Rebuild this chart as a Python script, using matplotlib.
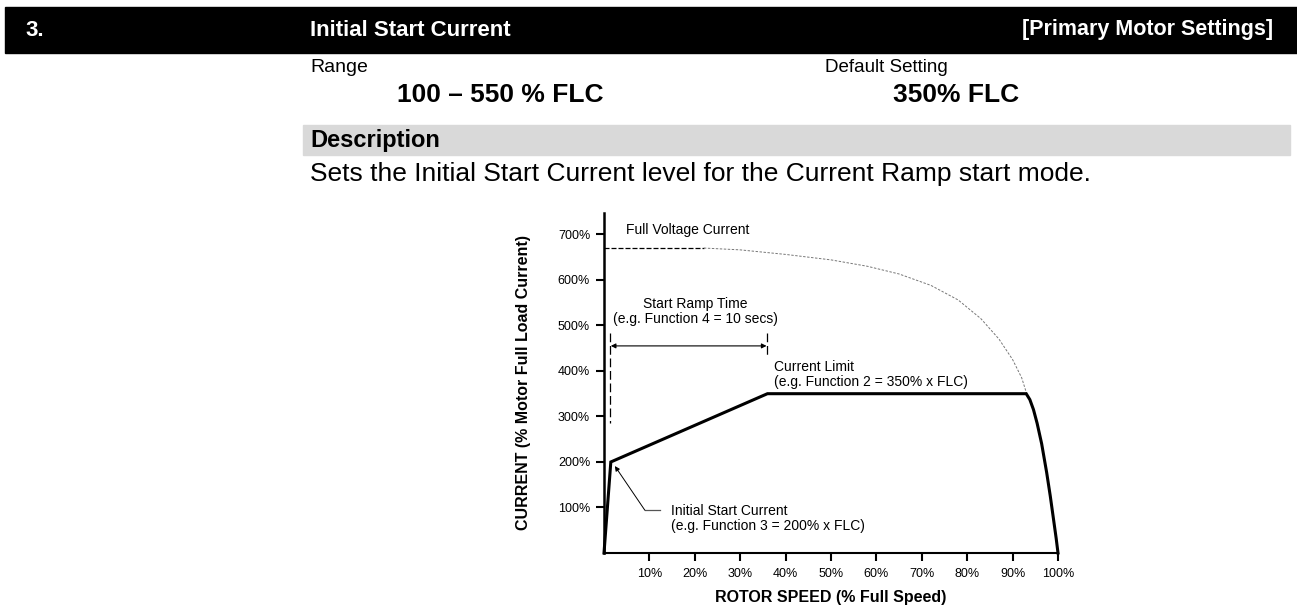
import matplotlib
matplotlib.use("Agg")
from matplotlib import pyplot as plt
from matplotlib.patches import Rectangle

plt.rcParams['font.family'] = ['Liberation Sans', 'DejaVu Sans']

# ---- data ----
speed_ramp = [0, 1.5, 36, 93, 93.8, 94.6, 95.4, 96.4, 97.5, 98.3, 99, 99.6, 100]
current_ramp = [0, 200, 350, 350, 337, 315, 285, 240, 177, 125, 75, 32, 0]

fv_speed_solid = [0, 22]
fv_current_solid = [670, 670]
fv_speed = [22, 30, 40, 50, 58, 65, 72, 78, 83, 87, 90, 92, 93.1]
fv_current = [670, 666, 656, 644, 630, 613, 588, 556, 515, 470, 425, 385, 350]

ramp_start_x = 1.3
ramp_end_x = 36
ramp_start_y = [483, 286]
ramp_end_y = [483, 430]
ramp_arrow_y = 455

x_ticks = [10, 20, 30, 40, 50, 60, 70, 80, 90, 100]
x_labels = ['10%', '20%', '30%', '40%', '50%', '60%', '70%', '80%', '90%', '100%']
y_ticks = [100, 200, 300, 400, 500, 600, 700]
y_labels = ['100%', '200%', '300%', '400%', '500%', '600%', '700%']

W, H = 1297, 608


def fx(px):
    return px / W


def fy(py):
    return 1 - py / H


fig = plt.figure(figsize=(W / 100, H / 100), dpi=100)

# ---- header ----
fig.patches.append(Rectangle((fx(5), fy(53)), fx(1297) - fx(5), (53 - 7) / H,
                             transform=fig.transFigure, color='black', zorder=0))
fig.text(fx(25), fy(30), '3.', color='white', fontsize=16, fontweight='bold', va='center')
fig.text(fx(310), fy(30), 'Initial Start Current', color='white', fontsize=16,
         fontweight='bold', va='center')
fig.text(fx(1273), fy(30), '[Primary Motor Settings]', color='white', fontsize=15.5,
         fontweight='bold', va='center', ha='right')

fig.text(fx(310), fy(67), 'Range', fontsize=14, va='center')
fig.text(fx(825), fy(67), 'Default Setting', fontsize=13.5, va='center')
fig.text(fx(397), fy(95), '100 \u2013 550 % FLC', fontsize=19, fontweight='bold', va='center')
fig.text(fx(893), fy(95), '350% FLC', fontsize=19, fontweight='bold', va='center')

fig.patches.append(Rectangle((fx(303), fy(155)), fx(1290) - fx(303), 30 / H,
                             transform=fig.transFigure, color='#d9d9d9', zorder=0))
fig.text(fx(310), fy(140), 'Description', fontsize=17, fontweight='bold', va='center')
fig.text(fx(310), fy(174), 'Sets the Initial Start Current level for the Current Ramp start mode.',
         fontsize=19, va='center')

# ---- chart ----
ax = fig.add_axes([fx(604), fy(553), (1058 - 604) / W, (553 - 213) / H])
ax.set_xlim(0, 100)
ax.set_ylim(0, 747)

ax.plot(fv_speed_solid, fv_current_solid, color='black', lw=0.9, dashes=(4, 1.6))
ax.plot(fv_speed, fv_current, color='#777777', lw=0.7, dashes=(2.5, 1.6))
ax.plot(speed_ramp, current_ramp, color='black', lw=2.2, solid_joinstyle='miter', clip_on=False)

ax.plot([ramp_start_x, ramp_start_x], ramp_start_y, color='black', lw=0.9, dashes=(7, 3))
ax.plot([ramp_end_x, ramp_end_x], ramp_end_y, color='black', lw=0.9, dashes=(7, 3))
ax.annotate('', xy=(ramp_start_x + 0.2, ramp_arrow_y), xytext=(ramp_end_x - 0.2, ramp_arrow_y),
            arrowprops=dict(arrowstyle='<|-|>', color='black', lw=0.8, mutation_scale=7,
                            shrinkA=0, shrinkB=0))

ax.text(4.85, 710, 'Full Voltage Current', fontsize=10, va='center')
ax.text(20.2, 530, 'Start Ramp Time\n(e.g. Function 4 = 10 secs)', fontsize=10,
        ha='center', va='center', multialignment='center', linespacing=1.1)
ax.text(37.4, 393, 'Current Limit\n(e.g. Function 2 = 350% x FLC)', fontsize=10,
        va='center', linespacing=1.1)
ax.text(14.8, 76, 'Initial Start Current\n(e.g. Function 3 = 200% x FLC)', fontsize=10,
        va='center', linespacing=1.1)

ax.plot([9, 12.3], [94, 94], color='#555555', lw=0.9)
ax.annotate('', xy=(2.4, 191), xytext=(9, 94),
            arrowprops=dict(arrowstyle='-|>', color='black', lw=0.7, mutation_scale=7,
                            shrinkA=0, shrinkB=0))

for side in ['top', 'right']:
    ax.spines[side].set_visible(False)
ax.spines['left'].set_linewidth(1.8)
ax.spines['bottom'].set_linewidth(1.5)

ax.set_xticks(x_ticks)
ax.set_xticklabels(x_labels)
ax.set_yticks(y_ticks)
ax.set_yticklabels(y_labels)
ax.tick_params(axis='both', direction='out', length=6, width=1.5, labelsize=9)
ax.tick_params(axis='x', pad=5)
ax.tick_params(axis='y', pad=4)

ax.set_xlabel('ROTOR SPEED (% Full Speed)', fontsize=11.5, fontweight='bold')
ax.xaxis.set_label_coords(0.5, -0.108)
ax.set_ylabel('CURRENT (% Motor Full Load Current)', fontsize=11.5, fontweight='bold')
ax.yaxis.set_label_coords(-0.16, 0.5)

fig.savefig('out.png', dpi=100)
